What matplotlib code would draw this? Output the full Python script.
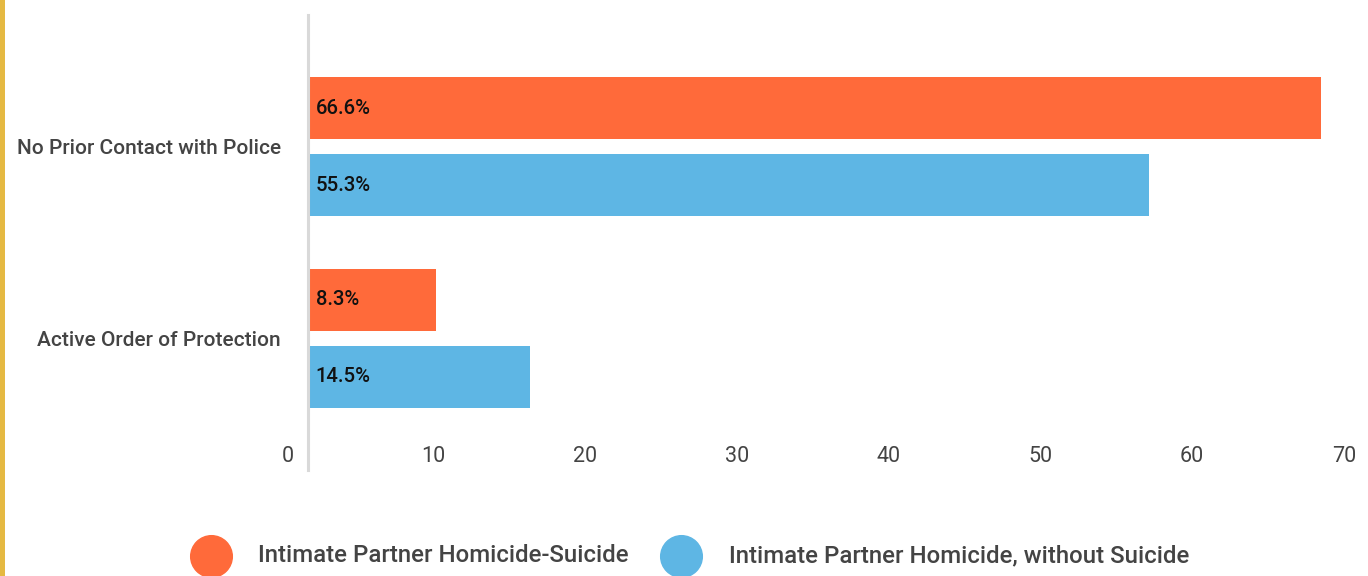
import matplotlib
matplotlib.use("Agg")
import numpy as np
import matplotlib.pyplot as plt
from matplotlib.lines import Line2D
from matplotlib.patches import Rectangle
from matplotlib.transforms import ScaledTranslation

plt.rcParams["font.family"] = ["Roboto", "DejaVu Sans"]

categories = ["No Prior Contact with Police", "Active Order of Protection"]
series_names = ["Intimate Partner Homicide-Suicide", "Intimate Partner Homicide, without Suicide"]
suicide_vals = [66.6, 8.3]
no_suicide_vals = [55.3, 14.5]
xticks = [0, 10, 20, 30, 40, 50, 60, 70]

ORANGE = "#ff6a3a"
BLUE = "#5eb6e4"
TXT = "#444444"

W, H = 1368, 576
fig = plt.figure(figsize=(W / 100, H / 100), dpi=100)

# axes: x=0 at px 308, 70 at px 1370; y from px 15 to 470
left, right = 308 / W, 1370 / W
top, bottom = 1 - 15 / H, 1 - 470 / H
ax = fig.add_axes([left, bottom, right - left, top - bottom])

y = np.arange(len(categories))
h = 0.3246
off = 0.2016
b1 = ax.barh(y - off, suicide_vals, height=h, color=ORANGE, left=0.15)
b2 = ax.barh(y + off, no_suicide_vals, height=h, color=BLUE, left=0.15)

for bars, vals in ((b1, suicide_vals), (b2, no_suicide_vals)):
    for bar, v in zip(bars, vals):
        ax.text(0.5, bar.get_y() + bar.get_height() / 2, f"{v}%",
                va="center", ha="left", fontsize=14.6, fontweight=500, color="#111111")

ax.set_xlim(0, 70)
ax.set_ylim(1.69, -0.69)
ax.set_yticks(y)
ax.set_yticklabels(categories, fontsize=15, fontweight=500, color=TXT)
ax.set_xticks(xticks)
ax.set_xticklabels([str(t) for t in xticks], fontsize=15.5, color=TXT, ha="right")
ax.tick_params(axis="both", length=0)
ax.tick_params(axis="y", pad=19.5)
ax.tick_params(axis="x", pad=-17)
shift = ScaledTranslation(-14 / 100, 0, fig.dpi_scale_trans)
for lbl in ax.get_xticklabels():
    lbl.set_transform(lbl.get_transform() + shift)

for s in ("top", "right", "bottom"):
    ax.spines[s].set_visible(False)
ax.spines["left"].set_color("#d9d9d9")
ax.spines["left"].set_linewidth(2.2)

# left accent stripe
fig.add_artist(Rectangle((0, 0), 5 / W, 1, transform=fig.transFigure,
                         color="#e5b942", lw=0))

# legend
leg_y = 1 - 556 / H
for cx, tx, col, name in ((211, 258, ORANGE, series_names[0]),
                          (681, 729, BLUE, series_names[1])):
    fig.add_artist(Line2D([cx / W], [leg_y], marker="o", markersize=30,
                          color=col, transform=fig.transFigure, lw=0))
    fig.text(tx / W, leg_y, name, fontsize=17.3, fontweight=500, color=TXT,
             va="center", ha="left")

fig.savefig("out.png", dpi=100)
